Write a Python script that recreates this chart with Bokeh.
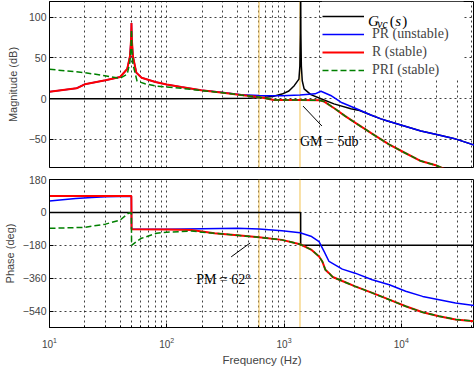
from bokeh.plotting import figure
from bokeh.models import (Range1d, FixedTicker, LogTickFormatter, Span, Label,
                          Legend, LegendItem, Arrow, BoxAnnotation)
from bokeh.layouts import column
from bokeh.embed import file_html
from bokeh.resources import INLINE

# ---------------- data ----------------
MAG_TICKS = [-50, 0, 50, 100]
PHASE_TICKS = [-540, -360, -180, 0, 180]
FREQ_DECADES = [10, 100, 1000, 10000]
FREQ_MINOR = [m * d for d in [10, 100, 1000, 10000] for m in range(2, 10)]
MARK_FREQS = [612, 1368]          # yellow marker lines (Hz)

# G_vc(s) magnitude / phase
gvc_mag_f = [10, 100, 300, 500, 612, 800, 960, 1100, 1222, 1340, 1365, 1380, 1386,
             1392, 1405, 1430, 1484, 1693, 2065, 2666, 3715, 4400, 5500, 6700,
             7640, 10600, 14700, 20000, 28000, 42100]
gvc_mag_db = [0, 0, 0.2, 0.6, 1.2, 2.8, 5.7, 9.5, 16, 24, 40, 80, 140,
              80, 40, 22, 12, 5, 0, -6.3, -12.4, -14.5, -20, -24.7,
              -27.4, -33.5, -39.7, -44, -48.7, -57]
gvc_ph_f = [10, 1386, 1387, 42100]
gvc_ph_deg = [0, 0, -180, -180]

# PR (unstable)
pr_mag_f = [10, 17, 20, 30, 40, 46, 48.5, 49.6, 50, 50.4, 51.5, 55, 61, 80, 100, 133,
            197, 290, 430, 612, 960, 1370, 1840, 2065, 2500, 3055, 4200, 5500, 6700,
            7640, 10600, 14700, 20000, 28000, 42100]
pr_mag_db = [8.6, 12.8, 17.7, 22.6, 26.7, 36.5, 52, 72, 93, 72, 52, 32, 25.8, 20.5, 17.5, 14.4,
             10.5, 7.8, 5.0, 3.8, 3.7, 4.5, 6.0, 9.2, 4.0, -4.3, -12.6, -20, -24.7,
             -27.4, -33.5, -39.7, -44, -48.7, -57]
pr_ph_f = [10, 16.7, 23, 30, 49.9, 50.1, 100, 200, 400, 612, 960, 1370, 1720, 1990, 2065,
           2200, 2420, 3140, 4040, 5650, 7900, 10900, 15200, 21000, 29000, 42100]
pr_ph_deg = [63, 76, 82, 86, 89, -92, -92, -89, -86, -90, -100, -111, -132, -160, -180,
             -214, -268, -310, -332, -368, -395, -431, -459, -477, -495, -509]

# R (stable)
r_mag_f = [10, 17, 20, 30, 40, 46, 48.5, 49.6, 50, 50.4, 51.5, 55, 61, 80, 100, 133,
           197, 290, 430, 612, 820, 1000, 1370, 2000, 2200, 2700, 3300, 4100, 5500, 7850,
           10600, 14700, 20000, 25000]
r_mag_db = [8.6, 12.8, 17.7, 22.6, 26.7, 36.5, 52, 72, 93, 72, 52, 32, 25.8, 20.5, 17.5, 14.4,
            10.5, 7.6, 4.5, 2.0, -1.5, -1.5, -1.5, -2, -3.5, -12, -21, -30, -42, -56,
            -66, -76.5, -82, -88]
r_ph_f = [10, 49.9, 50.1, 100, 162, 255, 400, 612, 960, 1370, 1720, 1990, 2120, 2250,
          2420, 2600, 3140, 4040, 5650, 7900, 10900, 15200, 21000, 29000, 42100]
r_ph_deg = [90, 90, -92, -93, -96, -114, -125, -136, -150, -174, -205, -241, -268, -313,
            -332, -353, -375, -404, -440, -477, -513, -546, -567, -585, -595]

# PRI (stable)
pri_mag_f = [10, 20, 30.5, 39.7, 46, 48.5, 49.6, 50, 50.4, 51.5, 55.8, 65.2, 80.6, 99.6,
             133, 197, 290, 430, 612, 820, 1000, 1370, 2000, 2200, 2700, 3300, 4100, 5500,
             7850, 10600, 14700, 20000, 25000]
pri_mag_db = [36.1, 32, 27.9, 25, 30, 45, 65, 85, 60, 42, 21.6, 18.4, 15.6, 14.4,
              12.8, 10, 7.6, 4.5, 2.0, -1.5, -1.5, -1.5, -2, -3.5, -12, -21, -30, -42,
              -56, -66, -76.5, -82, -88]
pri_ph_f = [10, 20, 30, 40, 47, 49.9, 50.1, 55, 61, 82, 100, 133, 162, 255, 400, 612, 960,
            1370, 1720, 1990, 2120, 2250, 2420, 2600, 3140, 4040, 5650, 7900, 10900,
            15200, 21000, 29000, 42100]
pri_ph_deg = [-87, -81.5, -64, -42, -5, -2, -180, -160, -141, -114, -108, -105, -102, -114,
              -125, -136, -150, -174, -205, -241, -268, -313, -332, -353, -375, -404,
              -440, -477, -513, -546, -567, -585, -595]

# annotations
GM_TEXT = "GM = 5db"
PM_TEXT = "PM = 62\u00b0"

# ---------------- styling ----------------
SANS = "Liberation Sans"
SERIF = "Liberation Serif"
X_RANGE = (10, 42100)
W = 474
C_BLACK, C_BLUE, C_RED, C_GREEN = "#000000", "#0000ff", "#ff0000", "#008000"
C_YELLOW = "#f2c24f"


def style(p, yticks, ylabel, label_standoff):
    p.outline_line_color = "black"
    p.outline_line_width = 1
    p.background_fill_color = "white"
    p.border_fill_color = "white"
    tick = FixedTicker(ticks=FREQ_DECADES, minor_ticks=FREQ_MINOR)
    p.xaxis.ticker = tick
    p.xgrid.ticker = tick
    for g in p.xgrid:
        g.grid_line_color = "black"
        g.grid_line_dash = "2 3"
        g.grid_line_alpha = 0.75
        g.minor_grid_line_color = "black"
        g.minor_grid_line_dash = "2 3"
        g.minor_grid_line_alpha = 0.75
    yt = FixedTicker(ticks=yticks, minor_ticks=[])
    p.yaxis.ticker = yt
    p.ygrid.ticker = yt
    p.ygrid.grid_line_color = "black"
    p.ygrid.grid_line_dash = "2 3"
    p.ygrid.grid_line_alpha = 0.75
    ax = p.yaxis[0]
    ax.axis_label = ylabel
    ax.axis_label_text_font = SANS
    ax.axis_label_text_font_style = "normal"
    ax.axis_label_text_font_size = "11px"
    ax.axis_label_standoff = label_standoff
    ax.major_label_text_font = SANS
    ax.major_label_text_font_size = "10.5px"
    ax.major_label_standoff = 3
    ax.major_tick_in = 4
    ax.major_tick_out = 0
    ax.minor_tick_in = 0
    ax.minor_tick_out = 0
    ax.axis_line_color = "black"
    for m in MARK_FREQS:
        p.add_layout(Span(location=m, dimension="height", line_color=C_YELLOW,
                          line_width=1, level="underlay"))


# ---------------- magnitude ----------------
p1 = figure(width=W, height=173, x_axis_type="log",
            x_range=Range1d(*X_RANGE), y_range=Range1d(-84.4, 119.3),
            output_backend="svg", toolbar_location=None,
            min_border_left=48, min_border_right=0, min_border_top=1,
            min_border_bottom=6)
style(p1, MAG_TICKS, "Magnitude (dB)", 7)
p1.xaxis.visible = False

# white panel behind the legend (hides the grid there)
p1.add_layout(BoxAnnotation(left=2105, right=34000, bottom=22.9, top=None,
                            fill_color="white", fill_alpha=1, line_color=None,
                            level="underlay"))

rb = p1.line(gvc_mag_f, gvc_mag_db, line_color=C_BLACK, line_width=1.5)
rp = p1.line(pr_mag_f, pr_mag_db, line_color=C_BLUE, line_width=1.5)
rr = p1.line(r_mag_f, r_mag_db, line_color=C_RED, line_width=2)
rg = p1.line(pri_mag_f, pri_mag_db, line_color=C_GREEN, line_width=1.5, line_dash="6 3")

legend = Legend(items=[LegendItem(label=" ", renderers=[rb]),
                       LegendItem(label="PR (unstable)", renderers=[rp]),
                       LegendItem(label="R (stable)", renderers=[rr]),
                       LegendItem(label="PRI (stable)", renderers=[rg])],
                location=(273, 88), padding=0, margin=0, spacing=0,
                glyph_width=42, glyph_height=18, label_height=18, label_width=92,
                label_standoff=8, label_text_font=SERIF, label_text_font_size="14px",
                border_line_color=None, background_fill_color="white",
                background_fill_alpha=0)
p1.add_layout(legend)

# G_vc(s) legend label, assembled from pieces (frequency, dB anchor)
for txt, fx, dby, size, style_ in [("G", 5190, 95.5, "15px", "italic"),
                                   ("vc", 6248, 92.3, "11.5px", "italic"),
                                   ("(", 7980, 95.5, "15px", "normal"),
                                   ("s", 8890, 95.5, "15px", "italic"),
                                   (")", 10197, 95.5, "15px", "normal")]:
    p1.add_layout(Label(x=fx, y=dby, text=txt,
                        text_font=SERIF, text_font_size=size, text_font_style=style_,
                        text_baseline="alphabetic", text_color="black"))

p1.add_layout(Arrow(end=None, x_start=1452, y_start=-9, x_end=2104, y_end=-33.5,
                    line_color="black", line_width=1))
p1.add_layout(Label(x=1368, y=-52, text=GM_TEXT, text_font=SERIF, text_font_size="14px",
                    text_baseline="alphabetic", text_color="black"))

# ---------------- phase ----------------
p2 = figure(width=W, height=195, x_axis_type="log",
            x_range=Range1d(*X_RANGE), y_range=Range1d(-629, 180),
            output_backend="svg", toolbar_location=None,
            min_border_left=48, min_border_right=0, min_border_top=6,
            min_border_bottom=40)
style(p2, PHASE_TICKS, "Phase (deg)", 4)
xa = p2.xaxis[0]
xa.formatter = LogTickFormatter()
xa.axis_label = "Frequency (Hz)"
xa.axis_label_text_font = SANS
xa.axis_label_text_font_style = "normal"
xa.axis_label_text_font_size = "11.5px"
xa.axis_label_standoff = 3
xa.major_label_text_font = SANS
xa.major_label_text_font_size = "10px"
xa.major_label_standoff = 9
xa.major_tick_in = 4
xa.major_tick_out = 0
xa.minor_tick_in = 2
xa.minor_tick_out = 0
xa.axis_line_color = "black"

p2.line(gvc_ph_f, gvc_ph_deg, line_color=C_BLACK, line_width=1.5)
p2.line(pr_ph_f, pr_ph_deg, line_color=C_BLUE, line_width=1.5)
p2.line(r_ph_f, r_ph_deg, line_color=C_RED, line_width=2)
p2.line(pri_ph_f, pri_ph_deg, line_color=C_GREEN, line_width=1.5, line_dash="6 3")

p2.add_layout(Arrow(end=None, x_start=354, y_start=-243, x_end=514, y_end=-167,
                    line_color="black", line_width=1))
p2.add_layout(Label(x=178, y=-368, text=PM_TEXT, text_font=SERIF, text_font_size="14px",
                    text_baseline="alphabetic", text_color="black"))

layout = column(p1, p2, spacing=0)
open("out.html", "w").write(file_html(layout, INLINE))
